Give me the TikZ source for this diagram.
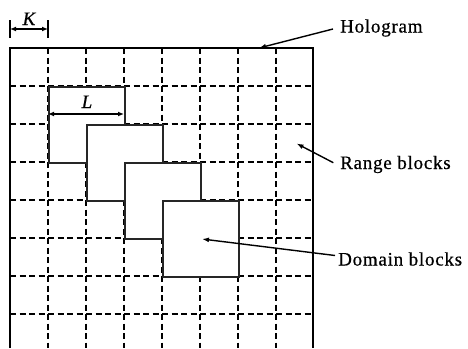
\documentclass[tikz,border=0pt]{standalone}
\usepackage{fontspec}
\setmainfont{Liberation Serif}[LetterSpace=4,FakeBold=0.6]
\usetikzlibrary{arrows.meta}
\begin{document}
\begin{tikzpicture}[x=1pt,y=-1pt,
  frame/.style={line width=2pt,black},
  grid/.style={line width=2pt,dash pattern=on 6pt off 3.5pt,black},
  blk/.style={draw=black!85,line width=1.6pt,fill=white,minimum size=76pt,inner sep=0pt,anchor=north west},
  lbl/.style={font=\fontsize{19}{19}\selectfont,anchor=base west,inner sep=0pt},
  ptr/.style={line width=1.4pt,-{Latex[length=7pt,width=5pt]}},
  dim/.style={line width=1.4pt,{Latex[length=6pt,width=5pt]}-{Latex[length=6pt,width=5pt]}}]
\useasboundingbox (0,0) rectangle (468,348);
% grid
\foreach \i in {1,...,7} {
  \draw[grid] (10+\i*38,48) -- (10+\i*38,348);
  \draw[grid] (10,48+\i*38) -- (313,48+\i*38);
}
% frame
\draw[frame] (10,348) -- (10,48) -- (313,48) -- (313,348);
% domain blocks
\node[blk] (d1) at (48,86) {};
\node[blk] (d2) at (86,124) {};
\node[blk] (d3) at (124,162) {};
\node[blk] (d4) at (162,200) {};
% K dimension
\coordinate (k1) at (10,29);
\coordinate (k2) at (48,29);
\draw[line width=2pt] (10,20) -- (10,38) (48,20) -- (48,38);
\draw[dim] (k1) -- (k2);
\node[font=\fontsize{19}{19}\selectfont\itshape,anchor=base,inner sep=0pt] (K) at (29,25) {K};
% L dimension
\coordinate (l1) at (48,114);
\coordinate (l2) at (124,114);
\draw[dim] (l1) -- (l2);
\node[font=\fontsize{19}{19}\selectfont\itshape,anchor=base,inner sep=0pt] (L) at (87,108) {L};
% labels
\node[lbl] (holo) at (340,32.5) {Hologram};
\node[lbl] (range) at (340,169) {Range blocks};
\node[lbl] (dom) at (338,265.5) {Domain blocks};
\coordinate (holoS) at (333,29);
\coordinate (holoT) at (259,48);
\coordinate (rangeS) at (333.3,162.7);
\coordinate (rangeT) at (296.5,143.5);
\coordinate (domS) at (335,255.5);
\coordinate (domT) at (202,239);
\draw[ptr] (holoS) -- (holoT);
\draw[ptr] (rangeS) -- (rangeT);
\draw[ptr] (domS) -- (domT);
\end{tikzpicture}
\end{document}
